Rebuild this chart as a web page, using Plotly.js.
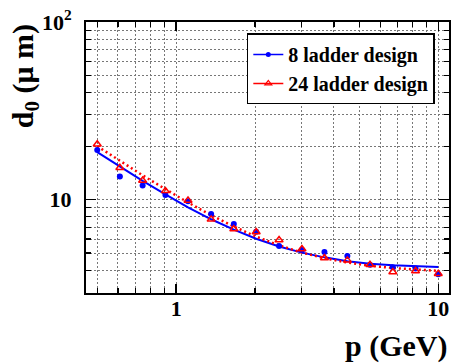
<!DOCTYPE html>
<html>
<head>
<meta charset="utf-8">
<script src="https://cdn.plot.ly/plotly-3.0.1.min.js"></script>
<style>html,body{margin:0;padding:0;background:#fff;}#chart{width:451px;height:364px;}</style>
</head>
<body>
<div id="chart"></div>
<script>
// momentum points (GeV)
const p = [0.5, 0.61, 0.745, 0.91, 1.11, 1.36, 1.66, 2.02, 2.47, 3.02, 3.68, 4.5, 5.49, 6.71, 8.19, 10];
// 8 ladder design measured d0 (um)
const d0_8 = [19.0, 13.5, 12.0, 10.6, 9.8, 8.3, 7.29, 6.6, 5.48, 5.2, 5.07, 4.81, 4.3, 4.16, 4.09, 3.8];
// 24 ladder design measured d0 (um)
const d0_24 = [20.5, 15.1, 12.8, 11.2, 9.9, 7.74, 6.83, 6.57, 5.93, 5.27, 4.69, 4.55, 4.3, 3.91, 3.96, 3.83];
// fitted curves
const fit_8 = [18.5, 15.3, 12.75, 10.7, 9.05, 7.75, 6.78, 6.02, 5.44, 5.03, 4.73, 4.5, 4.36, 4.27, 4.21, 4.17];
const fit_24 = [20.0, 16.5, 13.7, 11.45, 9.63, 8.17, 7.05, 6.19, 5.53, 5.03, 4.68, 4.42, 4.24, 4.12, 4.03, 3.97];
const legendNames = ['8 ladder design', '24 ladder design'];
const xMajor = [1, 10], xMajorText = ['1', '10'];
const xMinor = [0.5, 0.6, 0.7, 0.8, 0.9, 2, 3, 4, 5, 6, 7, 8, 9];
const yMajor = [10, 100], yMajorText = ['10', '10<sup>2</sup>'];
const yMinor = [4, 5, 6, 7, 8, 9, 20, 30, 40, 50, 60, 70, 80, 90];

const serif = 'Liberation Serif';
const BLUE = '#0000ff', RED = '#ff0000';

const traces = [
  {x: p, y: fit_8, mode: 'lines', line: {color: BLUE, width: 2}, showlegend: false, hoverinfo: 'skip'},
  {x: p, y: fit_24, mode: 'lines', line: {color: RED, width: 2.5, dash: '2px,3px'}, showlegend: false, hoverinfo: 'skip'},
  {x: p, y: d0_8, mode: 'markers', marker: {color: BLUE, size: 6, symbol: 'circle'}, showlegend: false},
  {x: p, y: d0_24, mode: 'markers', marker: {color: RED, size: 7, symbol: 'triangle-up-open', line: {width: 1.5, color: RED}}, showlegend: false},
  {x: [null], y: [null], name: legendNames[0], mode: 'lines+markers', line: {color: BLUE, width: 1.5}, marker: {color: BLUE, size: 5, symbol: 'circle'}},
  {x: [null], y: [null], name: legendNames[1], mode: 'lines+markers', line: {color: RED, width: 1.5}, marker: {color: RED, size: 6, symbol: 'triangle-up-open', line: {width: 1.2, color: RED}}}
];

const axisCommon = {
  type: 'log', ticks: 'inside', tickcolor: '#000', tickwidth: 1.5,
  showline: true, linecolor: '#000', linewidth: 2, mirror: 'ticks',
  showgrid: true, gridcolor: '#777', gridwidth: 1, griddash: '2px,2px',
  zeroline: false, tickmode: 'array',
  tickfont: {family: serif, size: 22, color: '#000', weight: 'bold'}
};

const layout = {
  width: 451, height: 364,
  margin: {l: 86, r: 2, t: 22, b: 71},
  paper_bgcolor: '#fff', plot_bgcolor: '#fff',
  font: {family: serif, color: '#000'},
  xaxis: Object.assign({}, axisCommon, {
    range: [Math.log10(0.453), Math.log10(10.99)],
    tickvals: xMajor, ticktext: xMajorText, ticklen: 9, ticklabelstandoff: -5,
    minor: {tickmode: 'array', tickvals: xMinor, ticks: 'inside', ticklen: 5, tickwidth: 1.2, tickcolor: '#000',
            showgrid: true, gridcolor: '#777', gridwidth: 1, griddash: '2px,2px'}
  }),
  yaxis: Object.assign({}, axisCommon, {
    range: [Math.log10(2.98), 2],
    tickvals: yMajor, ticktext: yMajorText, ticklen: 10, ticklabelstandoff: 8,
    minor: {tickmode: 'array', tickvals: yMinor, ticks: 'inside', ticklen: 5, tickwidth: 1.2, tickcolor: '#000',
            showgrid: true, gridcolor: '#777', gridwidth: 1, griddash: '2px,2px'}
  }),
  legend: {
    x: 0.443, y: 0.958, xanchor: 'left', yanchor: 'top',
    bgcolor: '#fff', bordercolor: '#000', borderwidth: 1.5,
    font: {family: serif, size: 20, color: '#000', weight: 'bold'},
    itemwidth: 30, tracegroupgap: 0
  },
  annotations: [
    {text: 'd<sub>0</sub> (μ m)', xref: 'paper', yref: 'paper', x: -0.168, y: 0.80,
     xanchor: 'center', yanchor: 'middle', textangle: -90, showarrow: false,
     font: {family: serif, size: 30, color: '#000', weight: 'bold'}},
    {text: 'p (GeV)', xref: 'paper', yref: 'paper', x: 1.0, y: -0.196,
     xanchor: 'right', yanchor: 'middle', showarrow: false,
     font: {family: serif, size: 30, color: '#000', weight: 'bold'}}
  ],
  showlegend: true
};

Plotly.newPlot('chart', traces, layout, {staticPlot: true, displayModeBar: false});
</script>
</body>
</html>
